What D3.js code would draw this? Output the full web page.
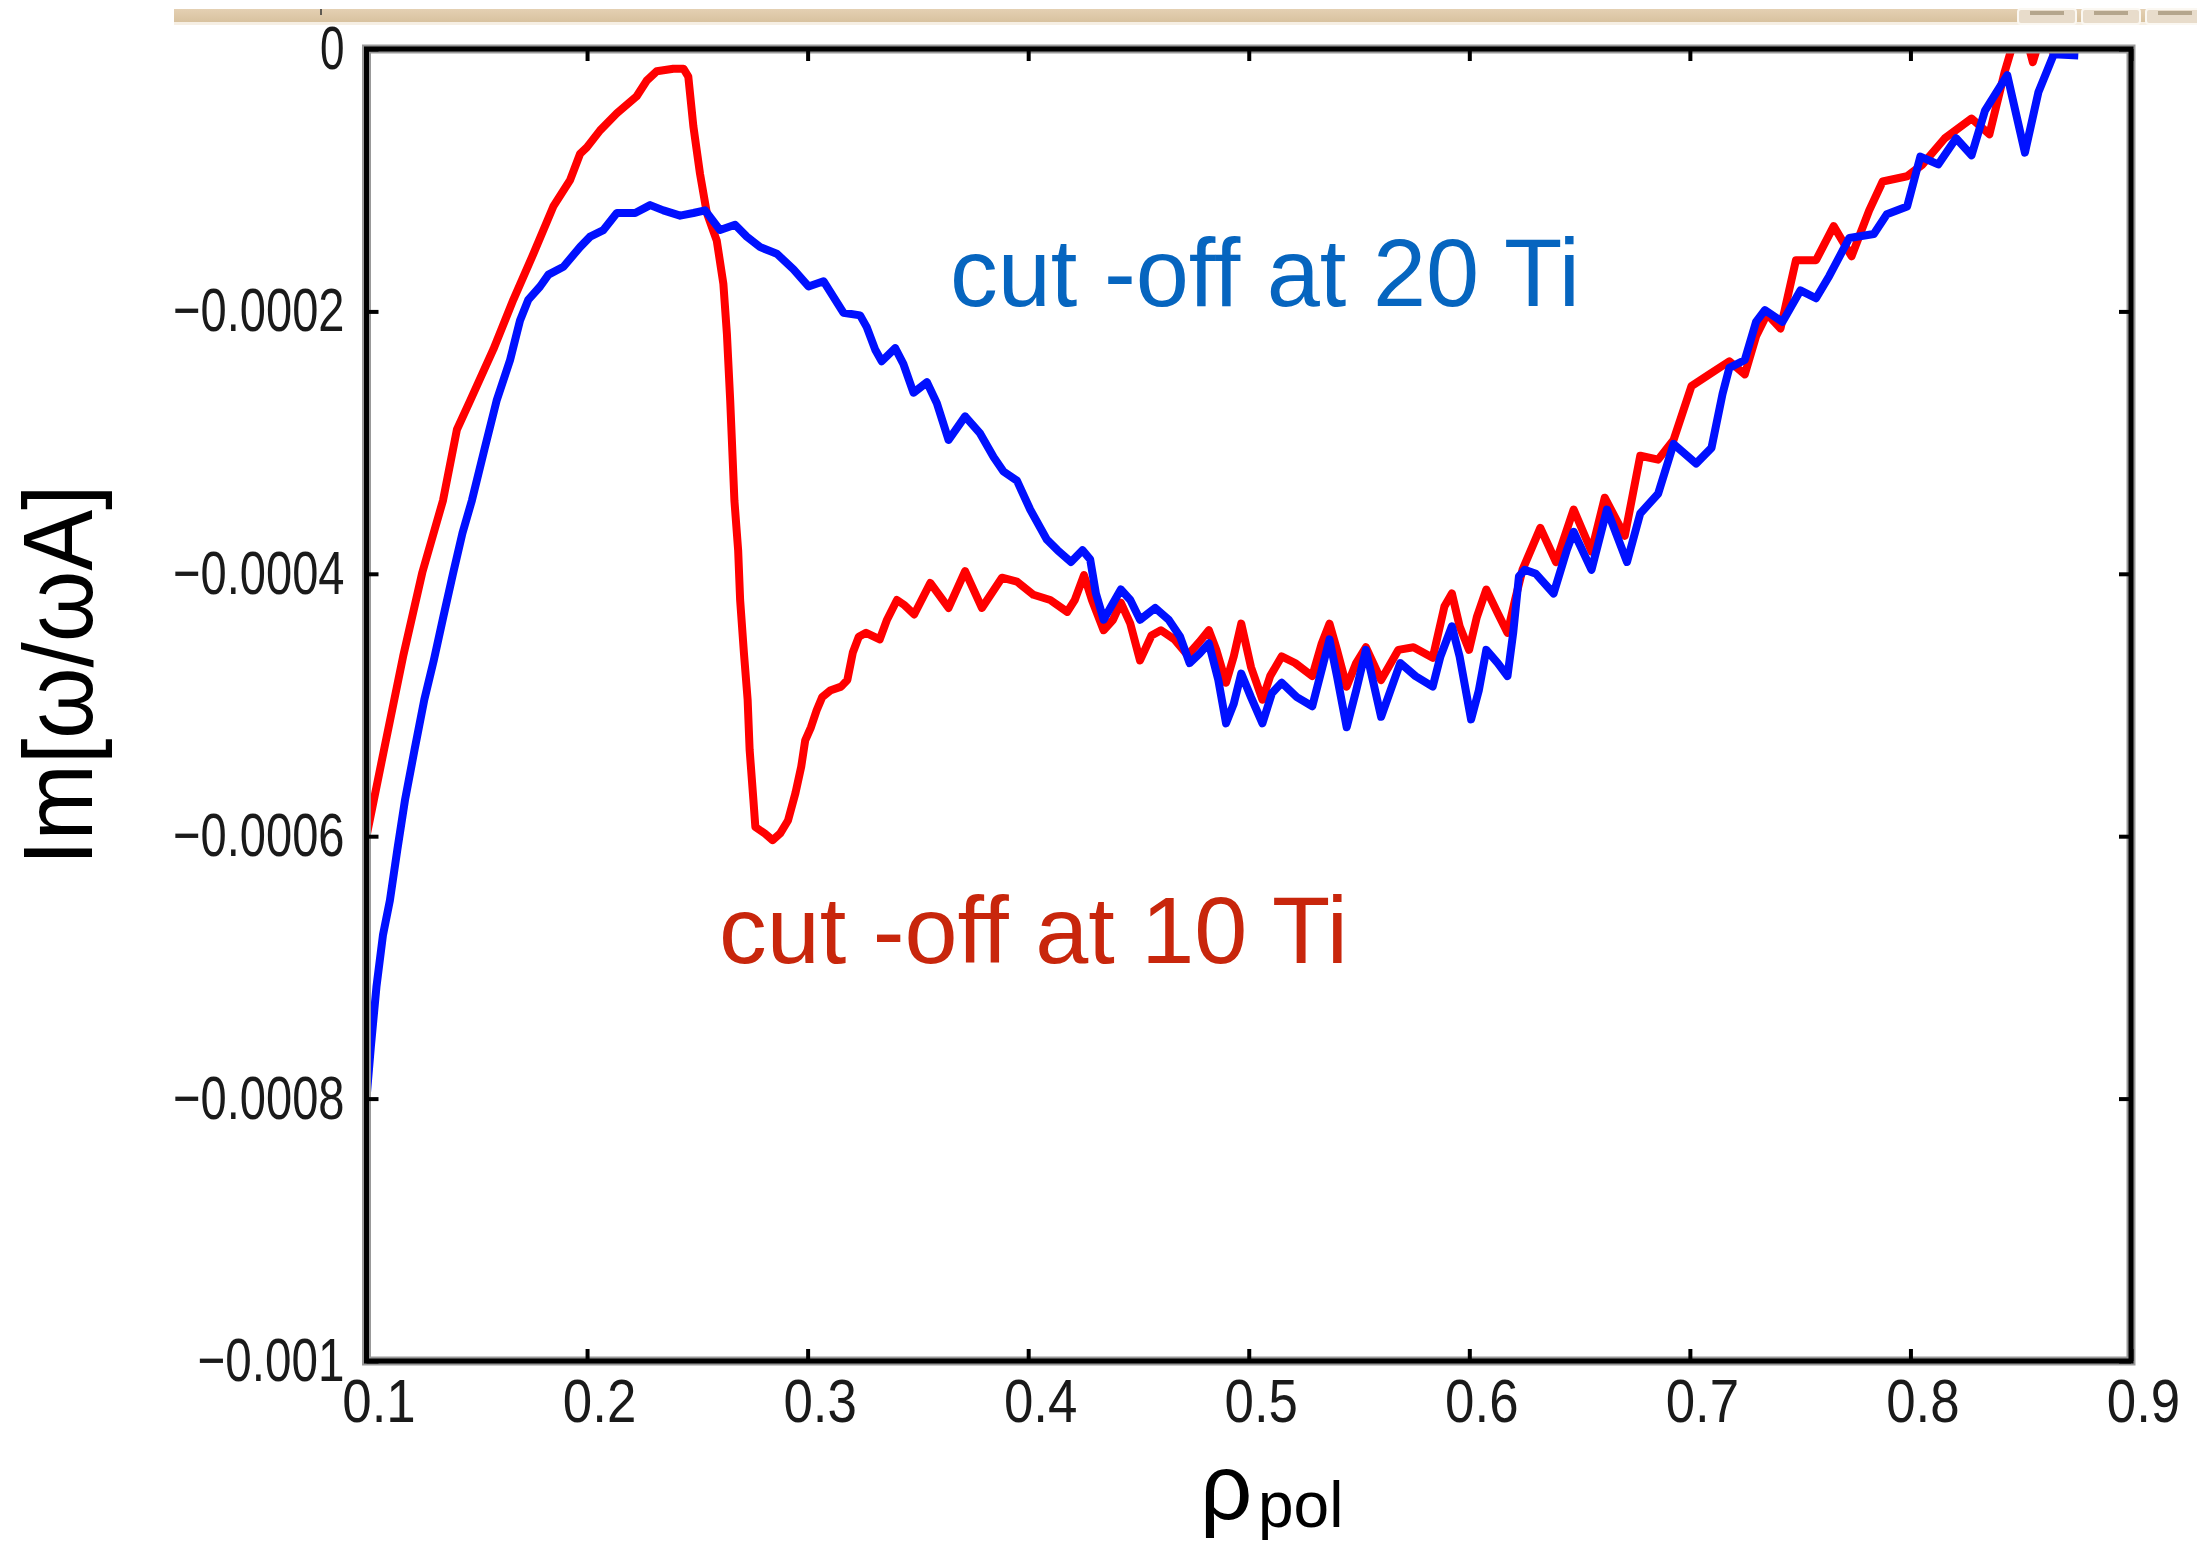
<!DOCTYPE html>
<html>
<head>
<meta charset="utf-8">
<script src="https://cdn.jsdelivr.net/npm/d3@7"></script>
<style>
  body { margin: 0; background: #fff; }
  svg { display: block; }
  .tick-label { font-family: "Liberation Sans", Arial, sans-serif; font-size: 61px; fill: #1a1a1a; }
  .note { font-family: "Liberation Sans", Arial, sans-serif; }
</style>
</head>
<body>
<svg id="chart"></svg>
<script>
// Axis ticks and their labels.
const xTicks = [0.1, 0.2, 0.3, 0.4, 0.5, 0.6, 0.7, 0.8, 0.9];
const xTickLabels = ["0.1", "0.2", "0.3", "0.4", "0.5", "0.6", "0.7", "0.8", "0.9"];
const yTicks = [-0.001, -0.0008, -0.0006, -0.0004, -0.0002, 0];
const yTickLabels = ["\u22120.001", "\u22120.0008", "\u22120.0006", "\u22120.0004", "\u22120.0002", "0"];

// cut-off at 10 Ti (red)
const redRho = [
    0.1000, 0.1088, 0.1166, 0.1253, 0.1347, 0.1410, 0.1470, 0.1575, 0.1666, 0.1757,
    0.1847, 0.1923, 0.1968, 0.1999, 0.2059, 0.2135, 0.2225, 0.2271, 0.2316, 0.2391,
    0.2437, 0.2459, 0.2482, 0.2512, 0.2543, 0.2588, 0.2618, 0.2634, 0.2649, 0.2668,
    0.2685, 0.2694, 0.2711, 0.2728, 0.2737, 0.2754, 0.2763, 0.2806, 0.2841, 0.2875,
    0.2911, 0.2945, 0.2971, 0.2989, 0.3015, 0.3041, 0.3066, 0.3102, 0.3152, 0.3180,
    0.3205, 0.3232, 0.3265, 0.3327, 0.3360, 0.3405, 0.3440, 0.3483, 0.3556, 0.3639,
    0.3714, 0.3790, 0.3881, 0.3949, 0.4024, 0.4100, 0.4177, 0.4211, 0.4253, 0.4289,
    0.4342, 0.4385, 0.4420, 0.4463, 0.4507, 0.4559, 0.4602, 0.4663, 0.4723, 0.4776,
    0.4819, 0.4853, 0.4897, 0.4932, 0.4966, 0.5010, 0.5062, 0.5097, 0.5149, 0.5210,
    0.5288, 0.5331, 0.5366, 0.5400, 0.5444, 0.5487, 0.5531, 0.5600, 0.5678, 0.5747,
    0.5834, 0.5887, 0.5921, 0.5956, 0.5999, 0.6034, 0.6077, 0.6129, 0.6173, 0.6207,
    0.6241, 0.6322, 0.6393, 0.6473, 0.6554, 0.6614, 0.6705, 0.6775, 0.6856, 0.6926,
    0.7007, 0.7088, 0.7179, 0.7249, 0.7300, 0.7350, 0.7411, 0.7481, 0.7572, 0.7652,
    0.7733, 0.7813, 0.7874, 0.7985, 0.8055, 0.8156, 0.8277, 0.8358, 0.8428, 0.8458,
    0.8500, 0.8555, 0.8600, 0.8650, 0.8700
];
const redIm = [
    -0.000600, -0.000527, -0.000463, -0.000399, -0.000344, -0.000290, -0.000268, -0.000229, -0.000191, -0.000156,
    -0.000120, -0.000100, -0.000080, -0.000075, -0.000062, -0.000049, -0.000036, -0.000024, -0.000017, -0.000015,
    -0.000015, -0.000021, -0.000059, -0.000095, -0.000125, -0.000146, -0.000179, -0.000217, -0.000268, -0.000344,
    -0.000382, -0.000420, -0.000460, -0.000496, -0.000534, -0.000572, -0.000593, -0.000598, -0.000603, -0.000598,
    -0.000588, -0.000567, -0.000547, -0.000527, -0.000517, -0.000504, -0.000494, -0.000489, -0.000486, -0.000481,
    -0.000460, -0.000448, -0.000445, -0.000450, -0.000435, -0.000420, -0.000424, -0.000431, -0.000407, -0.000426,
    -0.000398, -0.000426, -0.000403, -0.000406, -0.000416, -0.000420, -0.000429, -0.000420, -0.000401, -0.000420,
    -0.000443, -0.000435, -0.000422, -0.000438, -0.000466, -0.000447, -0.000443, -0.000450, -0.000462, -0.000452,
    -0.000443, -0.000458, -0.000483, -0.000463, -0.000438, -0.000471, -0.000496, -0.000478, -0.000463, -0.000468,
    -0.000478, -0.000453, -0.000438, -0.000458, -0.000486, -0.000468, -0.000456, -0.000481, -0.000458, -0.000456,
    -0.000464, -0.000425, -0.000415, -0.000440, -0.000458, -0.000433, -0.000412, -0.000430, -0.000445, -0.000420,
    -0.000397, -0.000365, -0.000391, -0.000351, -0.000383, -0.000342, -0.000371, -0.000310, -0.000313, -0.000298,
    -0.000257, -0.000248, -0.000238, -0.000248, -0.000219, -0.000202, -0.000213, -0.000161, -0.000161, -0.000135,
    -0.000158, -0.000123, -0.000101, -0.000097, -0.000088, -0.000068, -0.000053, -0.000065, -0.000017, 0.000000,
    0.000025, -0.000010, 0.000015, -0.000004, 0.000010
];

// cut-off at 20 Ti (blue)
const blueRho = [
    0.1000, 0.1020, 0.1045, 0.1075, 0.1106, 0.1140, 0.1175, 0.1218, 0.1262, 0.1305,
    0.1348, 0.1392, 0.1435, 0.1478, 0.1535, 0.1590, 0.1651, 0.1696, 0.1734, 0.1787,
    0.1825, 0.1893, 0.1968, 0.2014, 0.2074, 0.2135, 0.2218, 0.2286, 0.2346, 0.2422,
    0.2482, 0.2535, 0.2603, 0.2671, 0.2724, 0.2785, 0.2860, 0.2936, 0.3004, 0.3072,
    0.3117, 0.3162, 0.3238, 0.3268, 0.3306, 0.3336, 0.3397, 0.3434, 0.3480, 0.3541,
    0.3586, 0.3639, 0.3714, 0.3782, 0.3843, 0.3888, 0.3949, 0.4009, 0.4085, 0.4133,
    0.4194, 0.4246, 0.4281, 0.4307, 0.4342, 0.4376, 0.4420, 0.4463, 0.4507, 0.4576,
    0.4637, 0.4689, 0.4732, 0.4776, 0.4819, 0.4862, 0.4897, 0.4932, 0.4966, 0.5010,
    0.5062, 0.5105, 0.5149, 0.5218, 0.5288, 0.5331, 0.5366, 0.5400, 0.5444, 0.5487,
    0.5531, 0.5565, 0.5600, 0.5687, 0.5756, 0.5834, 0.5869, 0.5921, 0.5956, 0.6008,
    0.6043, 0.6077, 0.6129, 0.6173, 0.6199, 0.6225, 0.6251, 0.6302, 0.6382, 0.6442,
    0.6473, 0.6554, 0.6624, 0.6715, 0.6775, 0.6856, 0.6926, 0.7028, 0.7098, 0.7148,
    0.7179, 0.7249, 0.7300, 0.7340, 0.7420, 0.7501, 0.7572, 0.7632, 0.7723, 0.7834,
    0.7893, 0.7985, 0.8045, 0.8126, 0.8207, 0.8277, 0.8338, 0.8439, 0.8519, 0.8580,
    0.8650, 0.8761
];
const blueIm = [
    -0.000800, -0.000760, -0.000715, -0.000675, -0.000649, -0.000610, -0.000572, -0.000534, -0.000496, -0.000466,
    -0.000433, -0.000400, -0.000369, -0.000344, -0.000305, -0.000268, -0.000237, -0.000207, -0.000191, -0.000181,
    -0.000172, -0.000166, -0.000151, -0.000143, -0.000138, -0.000125, -0.000125, -0.000119, -0.000123, -0.000127,
    -0.000125, -0.000123, -0.000138, -0.000134, -0.000143, -0.000151, -0.000156, -0.000168, -0.000181, -0.000177,
    -0.000189, -0.000201, -0.000203, -0.000212, -0.000229, -0.000238, -0.000228, -0.000240, -0.000262, -0.000254,
    -0.000270, -0.000298, -0.000280, -0.000293, -0.000311, -0.000322, -0.000329, -0.000351, -0.000374, -0.000382,
    -0.000391, -0.000382, -0.000389, -0.000415, -0.000435, -0.000425, -0.000412, -0.000420, -0.000435, -0.000426,
    -0.000435, -0.000448, -0.000468, -0.000461, -0.000453, -0.000481, -0.000514, -0.000499, -0.000476, -0.000494,
    -0.000514, -0.000491, -0.000483, -0.000494, -0.000501, -0.000473, -0.000450, -0.000478, -0.000517, -0.000489,
    -0.000458, -0.000483, -0.000509, -0.000468, -0.000478, -0.000486, -0.000463, -0.000440, -0.000463, -0.000511,
    -0.000489, -0.000458, -0.000468, -0.000478, -0.000445, -0.000402, -0.000397, -0.000400, -0.000415, -0.000382,
    -0.000368, -0.000397, -0.000351, -0.000391, -0.000354, -0.000339, -0.000301, -0.000316, -0.000304, -0.000263,
    -0.000243, -0.000237, -0.000208, -0.000199, -0.000208, -0.000184, -0.000190, -0.000173, -0.000144, -0.000141,
    -0.000126, -0.000120, -0.000082, -0.000088, -0.000068, -0.000081, -0.000047, -0.000020, -0.000079, -0.000033,
    -0.000004, -0.000005
];

const totalWidth = 2197;
const totalHeight = 1541;
const margin = { top: 49, right: 66, bottom: 180, left: 366.5 };
const width = totalWidth - margin.left - margin.right;
const height = totalHeight - margin.top - margin.bottom;
const charWidth = 24.5; // tick labels are squeezed to this width per character

const root = d3.select("#chart")
    .attr("width", totalWidth)
    .attr("height", totalHeight);

// Window-chrome strip along the top of the screenshot.
const grad = root.append("defs").append("linearGradient")
    .attr("id", "tan")
    .attr("x1", 0).attr("x2", 0).attr("y1", 0).attr("y2", 1);
grad.append("stop").attr("offset", "0%").attr("stop-color", "#e4d0b3");
grad.append("stop").attr("offset", "100%").attr("stop-color", "#d8c29f");

root.append("rect")
    .attr("x", 174).attr("y", 22).attr("width", totalWidth - 174).attr("height", 3)
    .attr("fill", "#f6efe4");
root.append("rect")
    .attr("x", 174).attr("y", 9).attr("width", totalWidth - 174).attr("height", 13)
    .attr("fill", "url(#tan)");
[2018, 2082, 2146].forEach(bx => {
    root.append("rect")
        .attr("x", bx).attr("y", 9).attr("width", 58).attr("height", 15)
        .attr("rx", 3)
        .attr("fill", "#e8dccb")
        .attr("stroke", "#fbf8f2").attr("stroke-width", 2);
    root.append("rect")
        .attr("x", bx + 12).attr("y", 11).attr("width", 34).attr("height", 4)
        .attr("fill", "#b5a68d");
});
root.append("line")
    .attr("x1", 321).attr("x2", 321).attr("y1", 9).attr("y2", 15)
    .attr("stroke", "#333").attr("stroke-width", 1.5);

const svg = root.append("g")
    .attr("transform", `translate(${margin.left},${margin.top})`);

const x = d3.scaleLinear()
    .domain([0.1, 0.9])
    .range([0, width]);

const y = d3.scaleLinear()
    .domain([-0.001, 0])
    .range([height, 0]);

svg.append("clipPath")
    .attr("id", "plot-clip")
    .append("rect")
    .attr("x", 0).attr("y", 0)
    .attr("width", width).attr("height", height);

// The two growth-rate curves.
const line = d3.line()
    .x(d => x(d[0]))
    .y(d => y(d[1]));

const curves = svg.append("g").attr("clip-path", "url(#plot-clip)");
curves.append("path")
    .datum(d3.zip(redRho, redIm))
    .attr("fill", "none")
    .attr("stroke", "#ff0000")
    .attr("stroke-width", 8)
    .attr("stroke-linejoin", "round")
    .attr("d", line);
curves.append("path")
    .datum(d3.zip(blueRho, blueIm))
    .attr("fill", "none")
    .attr("stroke", "#0010ff")
    .attr("stroke-width", 8)
    .attr("stroke-linejoin", "round")
    .attr("d", line);

// Frame: a soft grey edge under a heavy black box.
svg.append("rect")
    .attr("x", 0).attr("y", 0)
    .attr("width", width).attr("height", height)
    .attr("fill", "none")
    .attr("stroke", "#999")
    .attr("stroke-width", 9);
svg.append("rect")
    .attr("x", 0).attr("y", 0)
    .attr("width", width).attr("height", height)
    .attr("fill", "none")
    .attr("stroke", "#000")
    .attr("stroke-width", 5);

function styleTicks(g) {
    g.select(".domain").remove();
    g.selectAll(".tick line")
        .attr("stroke", "#000")
        .attr("stroke-width", 4);
    g.selectAll(".tick text")
        .attr("class", "tick-label")
        .attr("textLength", function () { return this.textContent.length * charWidth; })
        .attr("lengthAdjust", "spacingAndGlyphs");
}

svg.append("g")
    .attr("transform", `translate(0,${height})`)
    .call(d3.axisBottom(x)
        .tickValues(xTicks)
        .tickFormat((d, i) => xTickLabels[i])
        .tickSizeInner(-12)
        .tickSizeOuter(0)
        .tickPadding(18))
    .call(styleTicks)
    .call(g => g.selectAll(".tick text").attr("dx", 12));

svg.append("g")
    .call(d3.axisTop(x)
        .tickValues(xTicks)
        .tickFormat("")
        .tickSizeInner(-12)
        .tickSizeOuter(0))
    .call(styleTicks);

svg.append("g")
    .call(d3.axisLeft(y)
        .tickValues(yTicks)
        .tickFormat((d, i) => yTickLabels[i])
        .tickSizeInner(-12)
        .tickSizeOuter(0)
        .tickPadding(22))
    .call(styleTicks);

svg.append("g")
    .attr("transform", `translate(${width},0)`)
    .call(d3.axisRight(y)
        .tickValues(yTicks)
        .tickFormat("")
        .tickSizeInner(-12)
        .tickSizeOuter(0))
    .call(styleTicks);

// Axis titles.
root.append("text")
    .attr("class", "note")
    .attr("transform", "translate(92,675) rotate(-90)")
    .attr("text-anchor", "middle")
    .attr("font-size", 99)
    .attr("textLength", 381)
    .attr("lengthAdjust", "spacingAndGlyphs")
    .attr("fill", "#000")
    .text("Im[\u03c9/\u03c9A]");

const xTitle = root.append("text")
    .attr("class", "note")
    .attr("fill", "#000");
xTitle.append("tspan")
    .attr("x", 1200).attr("y", 1519)
    .attr("font-size", 92)
    .text("\u03c1");
xTitle.append("tspan")
    .attr("x", 1258).attr("y", 1527)
    .attr("font-size", 64)
    .text("pol");

// Curve annotations.
root.append("text")
    .attr("class", "note")
    .attr("x", 950).attr("y", 306)
    .attr("font-size", 96)
    .attr("textLength", 630)
    .attr("lengthAdjust", "spacingAndGlyphs")
    .attr("fill", "#0665bf")
    .text("cut -off at 20 Ti");

root.append("text")
    .attr("class", "note")
    .attr("x", 719).attr("y", 963)
    .attr("font-size", 95)
    .attr("textLength", 629)
    .attr("lengthAdjust", "spacingAndGlyphs")
    .attr("fill", "#c8260c")
    .text("cut -off at 10 Ti");
</script>
</body>
</html>
